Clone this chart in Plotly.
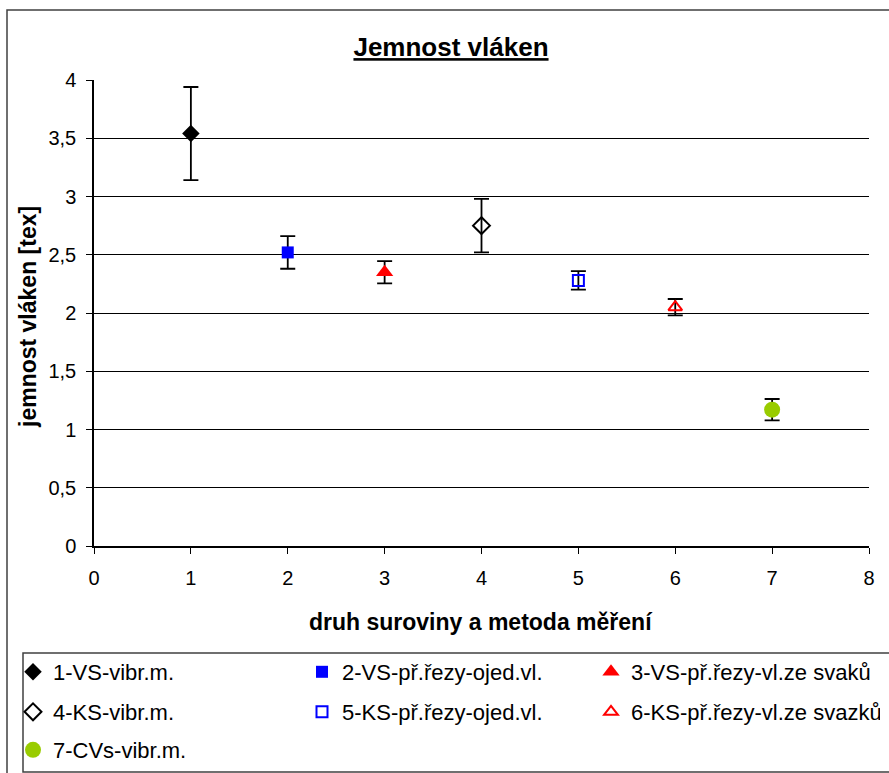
import plotly.graph_objects as go

labels = ["1-VS-vibr.m.", "2-VS-př.řezy-ojed.vl.", "3-VS-př.řezy-vl.ze svaků",
          "4-KS-vibr.m.", "5-KS-př.řezy-ojed.vl.", "6-KS-př.řezy-vl.ze svazků",
          "7-CVs-vibr.m."]
x_vals = [1, 2, 3, 4, 5, 6, 7]
y_vals = [3.54, 2.52, 2.35, 2.75, 2.28, 2.05, 1.17]
err_vals = [0.40, 0.14, 0.095, 0.23, 0.08, 0.07, 0.092]
y_tick_vals = [0, 0.5, 1, 1.5, 2, 2.5, 3, 3.5, 4]
y_tick_text = ["0", "0,5", "1", "1,5", "2", "2,5", "3", "3,5", "4"]
x_tick_vals = [0, 1, 2, 3, 4, 5, 6, 7, 8]

symbols = ["diamond", "square", "triangle-up", "diamond-open", "square-open",
           "triangle-up-open", "circle"]
colors = ["black", "#0000FF", "#FF0000", "black", "#0000FF", "#FF0000", "#99CC00"]
sizes = [13.5, 12, 15, 13, 11, 12, 16]
legend_ids = ["legend", "legend", "legend", "legend2", "legend2", "legend2", "legend3"]

W, H = 889, 773
L, R, T, B = 94, 869, 80, 546

def px(x):
    return (x - L) / (R - L)

def py(y):
    return (B - y) / (B - T)

fig = go.Figure()
for i in range(7):
    fig.add_trace(go.Scatter(
        x=[x_vals[i]], y=[y_vals[i]], mode="markers", name=labels[i],
        legend=legend_ids[i],
        marker=dict(symbol=symbols[i], color=colors[i], size=sizes[i],
                    line=dict(color=colors[i], width=2 if "open" in symbols[i] else 0)),
        error_y=dict(type="data", array=[err_vals[i]], visible=True,
                     color="black", thickness=1.8, width=7.5),
    ))

font = "Liberation Sans, Arial, sans-serif"

def leg(row_y):
    return dict(orientation="h", x=px(13), xanchor="left", y=py(row_y), yanchor="middle",
                entrywidth=244, entrywidthmode="pixels", traceorder="normal",
                font=dict(size=22, family=font, color="black"), itemsizing="trace",
                bgcolor="rgba(0,0,0,0)", borderwidth=0)

fig.update_layout(
    width=W, height=H,
    margin=dict(l=L, r=W - R, t=T, b=H - B, autoexpand=False),
    paper_bgcolor="white", plot_bgcolor="white",
    font=dict(family=font, size=20, color="black"),
    title=dict(text="<b><u>Jemnost vláken</u></b>", x=px(451), xref="paper",
               xanchor="center", y=1 - 47 / H, yanchor="middle",
               font=dict(size=26, family=font)),
    xaxis=dict(range=[0, 8], tickvals=x_tick_vals,
               showgrid=False, zeroline=False, showline=True, linecolor="black",
               linewidth=1.5, ticks="outside", ticklen=6, tickcolor="black",
               tickfont=dict(size=20), ticklabelstandoff=7),
    yaxis=dict(range=[0, 4], tickvals=y_tick_vals, ticktext=y_tick_text,
               showgrid=True, gridcolor="black", gridwidth=1, zeroline=False,
               showline=True, linecolor="black", linewidth=1.5,
               ticks="outside", ticklen=6, tickcolor="black",
               tickfont=dict(size=20), ticklabelstandoff=6),
    showlegend=True,
    legend=leg(672), legend2=leg(712), legend3=leg(750),
    annotations=[
        dict(text="<b>druh suroviny a metoda měření</b>", xref="paper", yref="paper",
             x=px(481), y=py(622), xanchor="center", yanchor="middle", showarrow=False,
             font=dict(size=23, family=font)),
        dict(text="<b>jemnost vláken [tex]</b>", xref="paper", yref="paper",
             x=px(28), y=py(317), xanchor="center", yanchor="middle", showarrow=False,
             textangle=-90, font=dict(size=23, family=font)),
    ],
)

# outer chart border
fig.add_shape(type="rect", xref="paper", yref="paper",
              x0=px(7), x1=px(895), y0=py(780), y1=py(10),
              line=dict(color="#404040", width=1.5), fillcolor="rgba(0,0,0,0)", layer="below")
# legend box
fig.add_shape(type="rect", xref="paper", yref="paper",
              x0=px(23), x1=px(895), y0=py(772), y1=py(653),
              line=dict(color="#404040", width=1.5), fillcolor="rgba(0,0,0,0)", layer="below")

fig.write_html("out.html", config={"displayModeBar": False},
               post_script="document.body.style.margin='0px';")
